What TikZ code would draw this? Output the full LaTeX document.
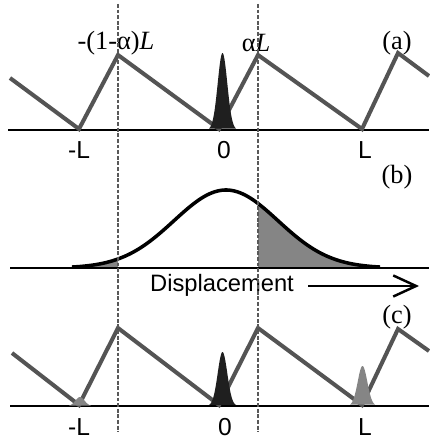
\documentclass[tikz,border=0pt]{standalone}
\usepackage{fontspec}
\setmainfont{Liberation Serif}
\setsansfont{Liberation Sans}
\usetikzlibrary{arrows.meta}

\definecolor{sawgray}{gray}{0.33}
\definecolor{fillgray}{gray}{0.52}
\definecolor{spikeblack}{gray}{0.12}

\begin{document}
\begin{tikzpicture}[x=0.02cm, y=-0.02cm,
  saw/.style={draw=sawgray, line width=2.3pt},
  axis/.style={line width=1.7pt},
  guide/.style={line width=0.6pt, black!65, dash pattern=on 2.2pt off 1pt},
  panel/.style={font=\fontsize{15}{17}\selectfont, inner sep=0pt},
  tick/.style={font=\sffamily\fontsize{14}{16}\selectfont, inner sep=0pt}]
  \useasboundingbox (0,0) rectangle (429,439);

  % (a) sawtooth potential with the packet at 0
  \draw[axis] (8,130) -- (429,130);
  \draw[saw] (10,78) -- (79,129) -- (118,55) -- (219,129) -- (258,55) -- (362,129) -- (398,53) -- (429,76);
  \fill[spikeblack] plot[domain=209:236, samples=50] (\x, {130-77*exp(-0.5*((\x-222.5)/4.8)^2)});
  \node[panel] (minuslabel) at (116,43) {-(1-α)\textit{L}};
  \node[panel] (alphalabel) at (256,43) {α\textit{L}};
  \node[panel] (tagA) at (397,43) {(a)};
  \node[tick] (ma) at (79,150) {-L};
  \node[tick] (za) at (224,150) {0};
  \node[tick] (la) at (365,150) {L};

  % (b) spread of the displacement
  \fill[fillgray] (258,268) -- plot[domain=258:380, samples=60] (\x, {268-78*exp(-0.5*((\x-226)/52)^2)}) -- (380,268) -- cycle;
  \fill[fillgray] (72,268) -- plot[domain=72:118, samples=30] (\x, {268-78*exp(-0.5*((\x-226)/52)^2)}) -- (118,268) -- cycle;
  \draw[axis] (10,268) -- (429,268);
  \draw[line width=2pt] plot[domain=72:380, samples=120, smooth] (\x, {268-78*exp(-0.5*((\x-226)/52)^2)});
  \node[panel] (tagB) at (397,177) {(b)};
  \node[font=\sffamily\fontsize{13.5}{16}\selectfont, inner sep=0pt] (disp) at (222,285) {Displacement};
  \coordinate (disptip) at (419,286);
  \draw[line width=1.2pt, -{Straight Barb[length=13pt, width=12pt, line width=1.4pt]}] ([xshift=0.28cm, yshift=-0.02cm]disp.east) -- (disptip);

  % (c) after the jump: part of the packet at L and -L
  \draw[axis] (10,406) -- (429,406);
  \draw[saw] (12,353) -- (79,405) -- (118,328) -- (219,405) -- (258,328) -- (362,405) -- (398,329) -- (429,351);
  \fill[spikeblack] plot[domain=209:236, samples=50] (\x, {406-54*exp(-0.5*((\x-222.5)/4.8)^2)});
  \fill[fillgray] plot[domain=350:375, samples=50] (\x, {406-40*exp(-0.5*((\x-362.5)/4.8)^2)});
  \fill[fillgray] plot[domain=69:91, samples=30] (\x, {406-9*exp(-0.5*((\x-80)/4.5)^2)});
  \node[panel] (tagC) at (397,317) {(c)};
  \node[tick] (mc) at (79,427) {-L};
  \node[tick] (zc) at (225,427) {0};
  \node[tick] (lc) at (365,427) {L};

  % guides through the peaks
  \draw[guide] (118,4) -- (118,432);
  \draw[guide] (258,4) -- (258,432);
\end{tikzpicture}
\end{document}
